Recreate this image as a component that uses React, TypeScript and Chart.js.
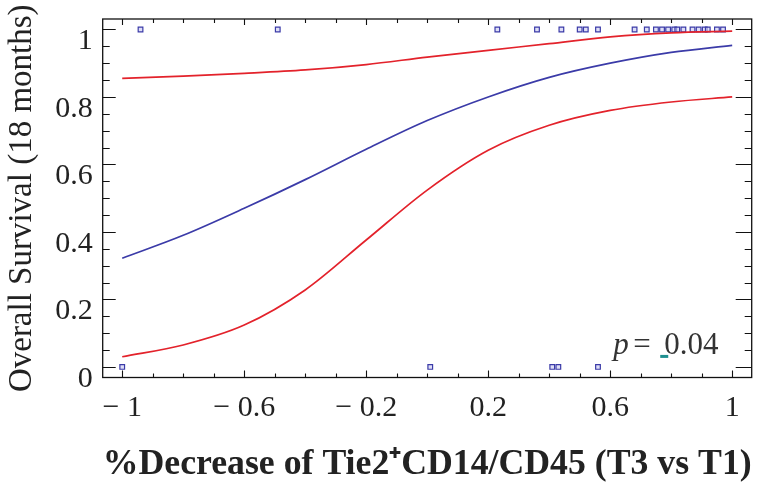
import React, { useEffect, useRef } from "react";
import { Chart, registerables } from "chart.js";

Chart.register(...registerables);

// ---- data ----
const fitX = [-1, -0.8, -0.6, -0.4, -0.2, 0, 0.2, 0.4, 0.6, 0.8, 1];
const fitSurvival = [0.322, 0.39, 0.47, 0.555, 0.645, 0.73, 0.8, 0.858, 0.9, 0.932, 0.953];
const upperCI = [0.855, 0.862, 0.87, 0.88, 0.896, 0.918, 0.938, 0.958, 0.978, 0.99, 0.995];
const lowerCI = [0.03, 0.065, 0.124, 0.228, 0.376, 0.524, 0.642, 0.716, 0.76, 0.785, 0.8];
const survivedX = [-0.94, -0.49, 0.23, 0.36, 0.44, 0.5, 0.52, 0.56, 0.68, 0.72, 0.75, 0.77, 0.79, 0.81, 0.82, 0.84, 0.87, 0.89, 0.91, 0.92, 0.95, 0.97];
const diedX = [-1, 0.01, 0.41, 0.43, 0.56];
const xTickValues = [-1, -0.6, -0.2, 0.2, 0.6, 1];
const xTickLabels = ["\u2212 1", "\u2212 0.6", "\u2212 0.2", "0.2", "0.6", "1"];
const yTickValues = [0, 0.2, 0.4, 0.6, 0.8, 1];
const yTickLabels = ["0", "0.2", "0.4", "0.6", "0.8", "1"];
const pLabel = "p";
const pValueText = "0.04";
const xTitle = "%Decrease of Tie2\u207ACD14/CD45 (T3 vs T1)";
const yTitle = "Overall Survival (18 months)";

const RED = "#e3222b";
const BLUE = "#3b3ba8";
const SERIF = '"Liberation Serif", "Times New Roman", serif';

const framePlugin = {
  id: "frameTicks",
  afterDraw(chart: any) {
    const { ctx, chartArea: a, scales } = chart;
    const x = scales.x;
    const y = scales.y;
    ctx.save();
    ctx.strokeStyle = "#111";
    ctx.lineWidth = 1.3;
    ctx.strokeRect(a.left, a.top, a.right - a.left, a.bottom - a.top);
    ctx.lineWidth = 1.1;
    ctx.beginPath();
    for (let i = -10; i <= 10; i++) {
      const v = i / 10;
      const px = Math.round(x.getPixelForValue(v)) + 0.5;
      const major = xTickValues.some((t) => Math.abs(t - v) < 1e-6);
      const lb = major ? 7 : 4;
      const lt = major ? 6 : 4;
      ctx.moveTo(px, a.bottom);
      ctx.lineTo(px, a.bottom - lb);
      ctx.moveTo(px, a.top);
      ctx.lineTo(px, a.top + lt);
    }
    for (let i = 0; i <= 20; i++) {
      const v = i / 20;
      const py = Math.round(y.getPixelForValue(v)) + 0.5;
      const major = i % 4 === 0;
      ctx.moveTo(a.left, py);
      ctx.lineTo(a.left + (major ? 13 : 7), py);
      ctx.moveTo(a.right, py);
      ctx.lineTo(a.right - (major ? 16 : 7), py);
    }
    ctx.stroke();

    // p-value annotation
    const bx = x.getPixelForValue(0.61);
    const by = y.getPixelForValue(0.0385);
    ctx.fillStyle = "#333";
    ctx.textBaseline = "alphabetic";
    ctx.textAlign = "left";
    ctx.font = `italic 31px ${SERIF}`;
    ctx.fillText(pLabel, bx, by);
    ctx.font = `31px ${SERIF}`;
    ctx.fillText("=", bx + 20, by);
    ctx.fillText(pValueText, bx + 51, by);
    ctx.fillStyle = "#1f8f8f";
    ctx.fillRect(bx + 47, by + 1, 8, 3);
    ctx.restore();
  },
};

export default function App() {
  const ref = useRef<HTMLCanvasElement | null>(null);

  useEffect(() => {
    if (!ref.current) return;
    const line = (vals: number[], color: string) => ({
      type: "line" as const,
      data: fitX.map((xv, i) => ({ x: xv, y: vals[i] })),
      borderColor: color,
      borderWidth: 1.7,
      pointRadius: 0,
      fill: false,
      showLine: true,
      cubicInterpolationMode: "monotone" as const,
    });
    const pts = (xs: number[], yv: number) => ({
      type: "scatter" as const,
      data: xs.map((xv) => ({ x: xv, y: yv })),
      pointStyle: "rect",
      pointRadius: 3.3,
      borderColor: BLUE,
      borderWidth: 1.2,
      backgroundColor: "rgba(200,200,240,0.6)",
      showLine: false,
    });

    const chart = new Chart(ref.current, {
      type: "scatter",
      data: {
        datasets: [
          line(upperCI, RED),
          line(lowerCI, RED),
          line(fitSurvival, BLUE),
          pts(survivedX, 1),
          pts(diedX, 0),
        ] as any,
      },
      options: {
        animation: false,
        responsive: false,
        maintainAspectRatio: false,
        layout: { padding: { top: 19, right: 8.3, left: 0, bottom: 0 } },
        plugins: { legend: { display: false }, tooltip: { enabled: false } },
        scales: {
          x: {
            type: "linear",
            min: -1.064,
            max: 1.064,
            grid: { display: false, drawTicks: false },
            border: { display: false },
            afterBuildTicks: (s: any) => {
              s.ticks = xTickValues.map((v) => ({ value: v }));
            },
            afterFit: (s: any) => {
              s.height = 111.5;
              s.paddingLeft = 0;
              s.paddingRight = 0;
            },
            ticks: {
              padding: 13,
              color: "#222",
              font: { family: SERIF, size: 30 },
              maxRotation: 0,
              autoSkip: false,
              callback: (v: any) => {
                const i = xTickValues.findIndex((t) => Math.abs(t - Number(v)) < 1e-6);
                return i >= 0 ? xTickLabels[i] : "";
              },
            },
            title: {
              display: true,
              text: xTitle,
              color: "#222",
              font: { family: SERIF, size: 36, weight: "bold" },
              padding: { top: 0, bottom: 3 },
            },
          },
          y: {
            type: "linear",
            min: -0.0314,
            max: 1.031,
            grid: { display: false, drawTicks: false },
            border: { display: false },
            afterBuildTicks: (s: any) => {
              s.ticks = yTickValues.map((v) => ({ value: v }));
            },
            afterFit: (s: any) => {
              s.width = 102.7;
              s.paddingTop = 0;
              s.paddingBottom = 0;
            },
            ticks: {
              padding: 10,
              labelOffset: 12,
              color: "#222",
              font: { family: SERIF, size: 30 },
              autoSkip: false,
              callback: (v: any) => {
                const i = yTickValues.findIndex((t) => Math.abs(t - Number(v)) < 1e-6);
                return i >= 0 ? yTickLabels[i] : "";
              },
            },
            title: {
              display: true,
              text: yTitle,
              color: "#222",
              font: { family: SERIF, size: 33 },
              padding: { top: 3, bottom: 0 },
            },
          },
        },
      } as any,
      plugins: [framePlugin],
    });
    return () => chart.destroy();
  }, []);

  return (
    <div style={{ position: "absolute", left: 0, top: 0, width: 760, height: 489, background: "#fff" }}>
      <canvas ref={ref} width={760} height={489} style={{ width: 760, height: 489, display: "block" }} />
    </div>
  );
}
